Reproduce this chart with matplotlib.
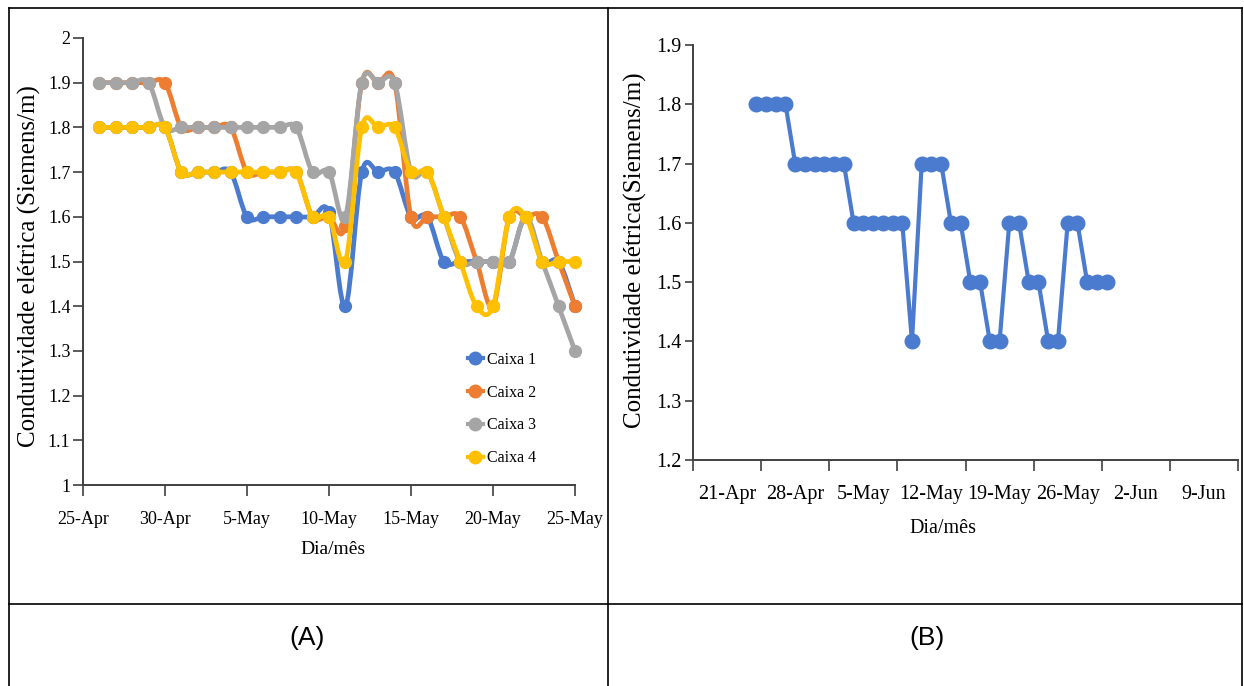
import matplotlib
matplotlib.use("Agg")
import matplotlib.pyplot as plt
import matplotlib.dates as mdates
from matplotlib.path import Path
from matplotlib.patches import PathPatch
from matplotlib.lines import Line2D
import numpy as np
import pandas as pd

# ---------------- data ----------------
# Panel A: daily readings 26-Apr .. 25-May
dates_a = pd.date_range("2021-04-26", "2021-05-25", freq="D")
caixa1 = [1.8, 1.8, 1.8, 1.8, 1.8, 1.7, 1.7, 1.7, 1.7, 1.6, 1.6, 1.6, 1.6, 1.6, 1.61,
          1.4, 1.7, 1.7, 1.7, 1.6, 1.6, 1.5, 1.5, 1.5, 1.5, 1.5, 1.6, 1.5, 1.5, 1.4]
caixa2 = [1.9, 1.9, 1.9, 1.9, 1.9, 1.8, 1.8, 1.8, 1.8, 1.7, 1.7, 1.7, 1.7, 1.6, 1.6,
          1.58, 1.9, 1.9, 1.9, 1.6, 1.6, 1.6, 1.6, 1.5, 1.4, 1.6, 1.6, 1.6, 1.5, 1.4]
caixa3 = [1.9, 1.9, 1.9, 1.9, 1.8, 1.8, 1.8, 1.8, 1.8, 1.8, 1.8, 1.8, 1.8, 1.7, 1.7,
          1.6, 1.9, 1.9, 1.9, 1.7, 1.7, 1.6, 1.5, 1.5, 1.5, 1.5, 1.6, 1.5, 1.4, 1.3]
caixa4 = [1.8, 1.8, 1.8, 1.8, 1.8, 1.7, 1.7, 1.7, 1.7, 1.7, 1.7, 1.7, 1.7, 1.6, 1.6,
          1.5, 1.8, 1.8, 1.8, 1.7, 1.7, 1.6, 1.5, 1.4, 1.4, 1.6, 1.6, 1.5, 1.5, 1.5]
series_names = ["Caixa 1", "Caixa 2", "Caixa 3", "Caixa 4"]
series_colors = ["#4a7bcf", "#ed7d31", "#a5a5a5", "#ffc000"]

ticks_a = ["2021-04-25", "2021-04-30", "2021-05-05", "2021-05-10",
           "2021-05-15", "2021-05-20", "2021-05-25"]
ticklabels_a = ["25-Apr", "30-Apr", "5-May", "10-May", "15-May", "20-May", "25-May"]
yticks_a = [1.0, 1.1, 1.2, 1.3, 1.4, 1.5, 1.6, 1.7, 1.8, 1.9, 2.0]
yticklabels_a = ["1", "1.1", "1.2", "1.3", "1.4", "1.5", "1.6", "1.7", "1.8", "1.9", "2"]

# Panel B: daily readings 27-Apr .. 2-Jun
dates_b = pd.date_range("2021-04-27", "2021-06-02", freq="D")
values_b = [1.8, 1.8, 1.8, 1.8,
            1.7, 1.7, 1.7, 1.7, 1.7, 1.7,
            1.6, 1.6, 1.6, 1.6, 1.6, 1.6,
            1.4,
            1.7, 1.7, 1.7,
            1.6, 1.6, 1.5, 1.5, 1.4, 1.4, 1.6, 1.6, 1.5, 1.5, 1.4, 1.4, 1.6, 1.6,
            1.5, 1.5, 1.5]
weeks_b = pd.date_range("2021-04-21", "2021-06-16", freq="7D")
ticklabels_b = ["21-Apr", "28-Apr", "5-May", "12-May", "19-May", "26-May", "2-Jun", "9-Jun"]
yticks_b = [1.2, 1.3, 1.4, 1.5, 1.6, 1.7, 1.8, 1.9]

# ---------------- style ----------------
SERIF = "Liberation Serif"
SANS = "Liberation Sans"
AXC = "#404040"

W, H = 1244, 686
fig = plt.figure(figsize=(W / 100, H / 100), dpi=100)


def fx(px):
    return px / W


def fy(py):
    return 1 - py / H


def smooth_path(xs, ys):
    pts = np.column_stack([xs, ys])
    n = len(pts)
    verts = [pts[0]]
    codes = [Path.MOVETO]
    for i in range(n - 1):
        p0 = pts[i - 1] if i > 0 else pts[i]
        p1 = pts[i]
        p2 = pts[i + 1]
        p3 = pts[i + 2] if i + 2 < n else pts[i + 1]
        c1 = p1 + (p2 - p0) / 6.0
        c2 = p2 - (p3 - p1) / 6.0
        verts += [c1, c2, p2]
        codes += [Path.CURVE4] * 3
    return Path(verts, codes)


def style_axes(ax, fs):
    for s in ["top", "right"]:
        ax.spines[s].set_visible(False)
    for s in ["left", "bottom"]:
        ax.spines[s].set_color(AXC)
        ax.spines[s].set_linewidth(1.4)
    ax.tick_params(axis="both", which="major", direction="out", color=AXC,
                   width=1.2, labelsize=fs, labelcolor="black")
    for lab in ax.get_xticklabels(which="both") + ax.get_yticklabels():
        lab.set_fontfamily(SERIF)


# ---------------- Panel A ----------------
axA = fig.add_axes([fx(83), fy(485), fx(575) - fx(83), fy(38) - fy(485)])
xa = mdates.date2num(dates_a.to_pydatetime())
for k, (vals, name, col) in enumerate(zip([caixa1, caixa2, caixa3, caixa4],
                                          series_names, series_colors)):
    patch = PathPatch(smooth_path(xa, vals), fill=False, edgecolor=col, lw=3.4,
                      zorder=2 + 2 * k, capstyle="round", joinstyle="round")
    patch.set_clip_on(False)
    axA.add_patch(patch)
    axA.plot(xa, vals, linestyle="none", marker="o", ms=8.5, color=col,
             zorder=3 + 2 * k, clip_on=False)

axA.set_xlim(mdates.date2num(pd.Timestamp(ticks_a[0])),
             mdates.date2num(pd.Timestamp(ticks_a[-1])))
axA.set_ylim(1.0, 2.0)
axA.set_xticks([mdates.date2num(pd.Timestamp(t)) for t in ticks_a])
axA.set_xticklabels(ticklabels_a)
axA.set_yticks(yticks_a)
axA.set_yticklabels(yticklabels_a)
style_axes(axA, 13)
axA.tick_params(axis="x", length=8, pad=11)
axA.tick_params(axis="y", length=7, pad=2)

axA.set_ylabel("Condutividade elétrica (Siemens/m)", fontfamily=SERIF,
               fontsize=18, va="center")
axA.yaxis.set_label_coords(-0.108, 0.49)
axA.set_xlabel("Dia/mês", fontfamily=SERIF, fontsize=14, va="center")
axA.xaxis.set_label_coords(0.508, -0.145)

handles = [Line2D([0], [0], color=c, lw=3, marker="o", ms=9) for c in series_colors]
leg = axA.legend(handles, series_names, loc="upper left",
                 bbox_to_anchor=(0.783, 0.298), frameon=False,
                 prop={"family": SERIF, "size": 11.5}, handlelength=0.9,
                 handletextpad=0.25, labelspacing=1.05, borderaxespad=0,
                 borderpad=0)

# ---------------- Panel B ----------------
axB = fig.add_axes([fx(693), fy(460), fx(1238) - fx(693), fy(45) - fy(460)])
xb = mdates.date2num(dates_b.to_pydatetime()) + 0.5
axB.plot(xb, values_b, color=series_colors[0], lw=3, marker="o", ms=10.5,
         solid_joinstyle="round", zorder=3, clip_on=False)
wk = mdates.date2num(weeks_b.to_pydatetime())
axB.set_xlim(wk[0], wk[-1])
axB.set_ylim(1.2, 1.9)
axB.set_xticks(wk)
axB.set_xticklabels([])
axB.set_xticks(wk[:-1] + 3.5, minor=True)
axB.set_xticklabels(ticklabels_b, minor=True)
axB.set_yticks(yticks_b)
axB.set_yticklabels([f"{v:.1f}" for v in yticks_b])
style_axes(axB, 14.5)
axB.tick_params(axis="x", which="major", length=8)
axB.tick_params(axis="x", which="minor", length=0, pad=18, labelsize=14.5)
axB.tick_params(axis="y", length=6, pad=2)
for lab in axB.get_xticklabels(which="minor"):
    lab.set_fontfamily(SERIF)

axB.set_ylabel("Condutividade elétrica(Siemens/m)", fontfamily=SERIF,
               fontsize=18, va="center")
axB.yaxis.set_label_coords(-0.106, 0.506)
axB.set_xlabel("Dia/mês", fontfamily=SERIF, fontsize=14.5, va="center")
axB.xaxis.set_label_coords(0.459, -0.164)

# ---------------- table frame ----------------
lw = 1.2
frame = [
    ([fx(9), fx(1242)], [fy(8), fy(8)]),
    ([fx(9), fx(9)], [fy(8), 0]),
    ([fx(1242), fx(1242)], [fy(8), 0]),
    ([fx(608), fx(608)], [fy(8), 0]),
    ([fx(9), fx(1242)], [fy(604), fy(604)]),
]
for xs, ys in frame:
    fig.add_artist(Line2D(xs, ys, transform=fig.transFigure, color="black", lw=lw))

fig.text(fx(307), fy(638), "(A)", ha="center", va="center", fontfamily=SANS, fontsize=19)
fig.text(fx(927), fy(638), "(B)", ha="center", va="center", fontfamily=SANS, fontsize=19)

fig.savefig("out.png", dpi=100)
